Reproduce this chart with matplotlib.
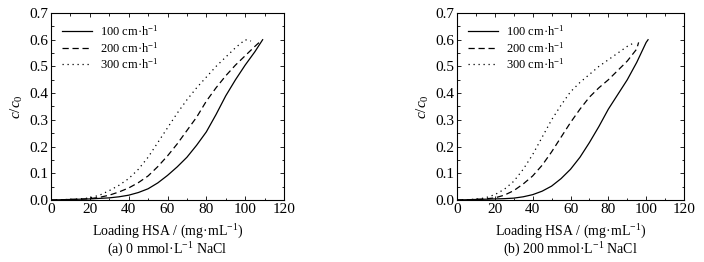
import numpy as np
import matplotlib
matplotlib.use("Agg")
import matplotlib.pyplot as plt
from matplotlib.ticker import MultipleLocator

plt.rcParams['font.family'] = 'Liberation Serif'
plt.rcParams['mathtext.fontset'] = 'custom'
plt.rcParams['mathtext.rm'] = 'Liberation Serif'
plt.rcParams['mathtext.it'] = 'Liberation Serif:italic'

labels = ['100 cm·h$^{-1}$', '200 cm·h$^{-1}$', '300 cm·h$^{-1}$']
captions = ['(a) 0 mmol·L$^{-1}$ NaCl', '(b) 200 mmol·L$^{-1}$ NaCl']

# panel (a): 0 mmol/L NaCl
xa100 = [0, 5, 10, 15, 20, 25, 30, 35, 40, 45, 50, 55, 60, 65, 70, 75, 80, 85, 90, 95, 100, 105, 109]
ya100 = [0, 0.001, 0.002, 0.003, 0.004, 0.006, 0.008, 0.012, 0.018, 0.028, 0.042, 0.064, 0.092,
         0.124, 0.16, 0.205, 0.255, 0.32, 0.39, 0.45, 0.505, 0.555, 0.6]
xa200 = [0, 5, 10, 15, 20, 25, 30, 35, 40, 45, 50, 55, 60, 65, 70, 75, 80, 85, 90, 95, 100, 105, 108]
ya200 = [0, 0.001, 0.002, 0.003, 0.005, 0.01, 0.018, 0.03, 0.045, 0.065, 0.09, 0.125, 0.165,
         0.21, 0.26, 0.31, 0.37, 0.42, 0.465, 0.505, 0.54, 0.575, 0.595]
xa300 = [0, 5, 10, 15, 20, 25, 30, 35, 40, 45, 50, 55, 60, 65, 70, 75, 80, 85, 90, 95, 100, 103]
ya300 = [0, 0.001, 0.002, 0.004, 0.008, 0.018, 0.035, 0.055, 0.08, 0.115, 0.16, 0.215, 0.27,
         0.325, 0.375, 0.42, 0.46, 0.5, 0.535, 0.57, 0.6, 0.595]

# panel (b): 200 mmol/L NaCl
xb100 = [0, 5, 10, 15, 20, 25, 30, 35, 40, 45, 50, 55, 60, 65, 70, 75, 80, 85, 90, 95, 100, 101]
yb100 = [0, 0.001, 0.002, 0.003, 0.004, 0.005, 0.007, 0.012, 0.02, 0.033, 0.052, 0.08, 0.115,
         0.16, 0.215, 0.275, 0.34, 0.395, 0.45, 0.515, 0.59, 0.6]
xb200 = [0, 5, 10, 15, 20, 25, 30, 35, 40, 45, 50, 55, 60, 65, 70, 75, 80, 85, 90, 95, 96]
yb200 = [0, 0.001, 0.002, 0.004, 0.008, 0.018, 0.035, 0.06, 0.09, 0.13, 0.18, 0.235, 0.29,
         0.34, 0.385, 0.42, 0.45, 0.485, 0.52, 0.565, 0.59]
xb300 = [0, 5, 10, 15, 20, 25, 30, 35, 40, 45, 50, 55, 60, 65, 70, 75, 80, 85, 90, 94]
yb300 = [0, 0.001, 0.003, 0.008, 0.02, 0.04, 0.07, 0.115, 0.17, 0.235, 0.3, 0.355, 0.405,
         0.44, 0.47, 0.5, 0.525, 0.55, 0.575, 0.59]

panels = [
    [(xa100, ya100), (xa200, ya200), (xa300, ya300)],
    [(xb100, yb100), (xb200, yb200), (xb300, yb300)],
]
styles = ['-', (0, (5, 3)), (0, (1, 3))]

W, H = 704, 262
fig = plt.figure(figsize=(W / 100, H / 100), dpi=100)
boxes = [(51, 13, 284, 200), (457, 13, 684, 200)]

for i, (x0, y0, x1, y1) in enumerate(boxes):
    ax = fig.add_axes([x0 / W, 1 - y1 / H, (x1 - x0) / W, (y1 - y0) / H])
    for (xs, ys), ls, lab in zip(panels[i], styles, labels):
        ax.plot(xs, ys, color='black', lw=0.9, linestyle=ls, label=lab)
    ax.set_xlim(0, 120)
    ax.set_ylim(0, 0.7)
    ax.xaxis.set_major_locator(MultipleLocator(20))
    ax.xaxis.set_minor_locator(MultipleLocator(10))
    ax.yaxis.set_major_locator(MultipleLocator(0.1))
    ax.yaxis.set_minor_locator(MultipleLocator(0.05))
    ax.yaxis.set_major_formatter(plt.FuncFormatter(lambda v, p: f'{v:.1f}'))
    ax.tick_params(which='both', direction='in', top=True, right=True, labelsize=11, pad=2)
    ax.tick_params(which='major', length=3, width=0.6)
    ax.tick_params(which='minor', length=1.8, width=0.6)
    for s in ax.spines.values():
        s.set_linewidth(0.8)
    ax.set_ylabel('$c/c_0$', fontsize=11, labelpad=3)
    ax.set_xlabel('Loading HSA / (mg·mL$^{-1}$)', fontsize=10, labelpad=5)
    ax.text(0.5, -0.265, captions[i], transform=ax.transAxes, ha='center', va='center', fontsize=10)
    ax.legend(loc='upper left', frameon=False, fontsize=9, handlelength=2.4,
              handletextpad=0.6, labelspacing=0.15, borderaxespad=0.5)

fig.savefig('out.png', dpi=100)
